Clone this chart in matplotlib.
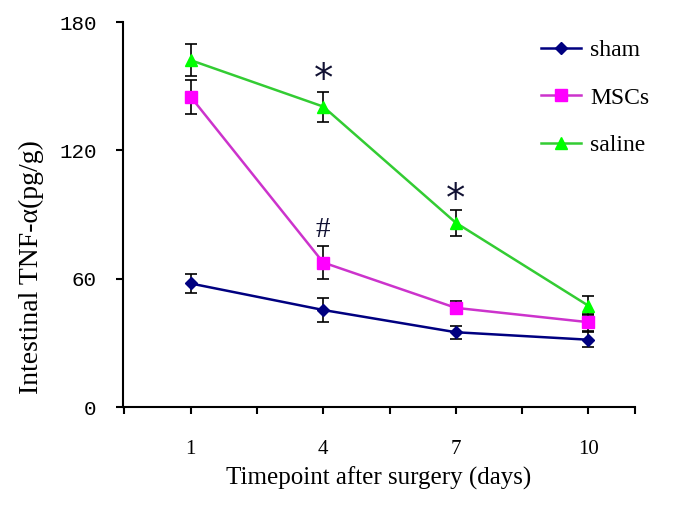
import matplotlib

matplotlib.use("Agg")
import matplotlib.pyplot as plt

days = ["1", "4", "7", "10"]
sham = [57.8, 45.4, 35.0, 31.5]
sham_err = [4.5, 5.4, 3.0, 3.5]
mscs = [145.1, 67.6, 46.4, 39.7]
mscs_err = [8.0, 7.7, 3.0, 4.0]
saline = [162.2, 140.5, 86.2, 47.4]
saline_err = [7.5, 7.0, 6.0, 4.5]

# significance marks: (category index, value, symbol)
marks = [(1, 153, "*"), (2, 97, "*"), (1, 83, "#")]

fig = plt.figure(figsize=(6.76, 5.14), dpi=100)
ax = fig.add_axes([0.182, 0.208, 0.757, 0.749])

x = list(range(len(days)))
series = [
    ("sham", sham, sham_err, "#000080", "#000080", "D", 6),
    ("MSCs", mscs, mscs_err, "#cc33cc", "#ff00ff", "s", 8),
    ("saline", saline, saline_err, "#33cc33", "#00ff00", "^", 8.5),
]
for label, ys, errs, line_color, face, marker, size in series:
    ax.errorbar(x, ys, yerr=errs, fmt="none", ecolor="black", elinewidth=1.2,
                capsize=4.5, capthick=1.2, zorder=2)
    ax.plot(x, ys, color=line_color, linewidth=1.8, marker=marker, markersize=size,
            markerfacecolor=face, markeredgecolor=face, label=label, zorder=3)

for idx, val, sym in marks:
    if sym == "*":
        ax.text(idx, val, sym, ha="center", va="center", fontsize=28,
                family="DejaVu Sans", color="#111133")
    else:
        ax.text(idx, val, sym, ha="center", va="center", fontsize=21,
                family="Liberation Serif", color="#111133")

x_lo, x_hi = -0.51, 3.35
ax.set_xticks(x)
ax.set_xticks([i + 0.5 for i in range(-1, 3)] + [x_hi], minor=True)
ax.set_xlim(x_lo, x_hi)
ax.set_ylim(0, 180)
ax.set_xticklabels(days, family="Liberation Serif", fontsize=15)
ax.set_yticks([0, 60, 120, 180])
ax.set_yticklabels(["0", "60", "120", "180"], family="Liberation Mono", fontsize=15)
ax.tick_params(axis="x", which="both", direction="out", length=5, width=1.5, pad=19)
ax.tick_params(axis="y", direction="out", length=5, width=1.5, pad=14)

for side in ("top", "right"):
    ax.spines[side].set_visible(False)
for side in ("left", "bottom"):
    ax.spines[side].set_linewidth(1.5)

ax.set_xlabel("Timepoint after surgery (days)", family="Liberation Serif", fontsize=18, labelpad=5)
ax.set_ylabel("Intestinal TNF-α(pg/g)", family="Liberation Serif", fontsize=20)
ax.yaxis.set_label_coords(-0.155, 0.364)

ax.legend(loc="upper right", bbox_to_anchor=(1.07, 1.01), frameon=False,
          prop={"family": "Liberation Serif", "size": 17}, labelspacing=1.1,
          handlelength=1.7, handletextpad=0.4)

fig.savefig("out.png", dpi=100)
